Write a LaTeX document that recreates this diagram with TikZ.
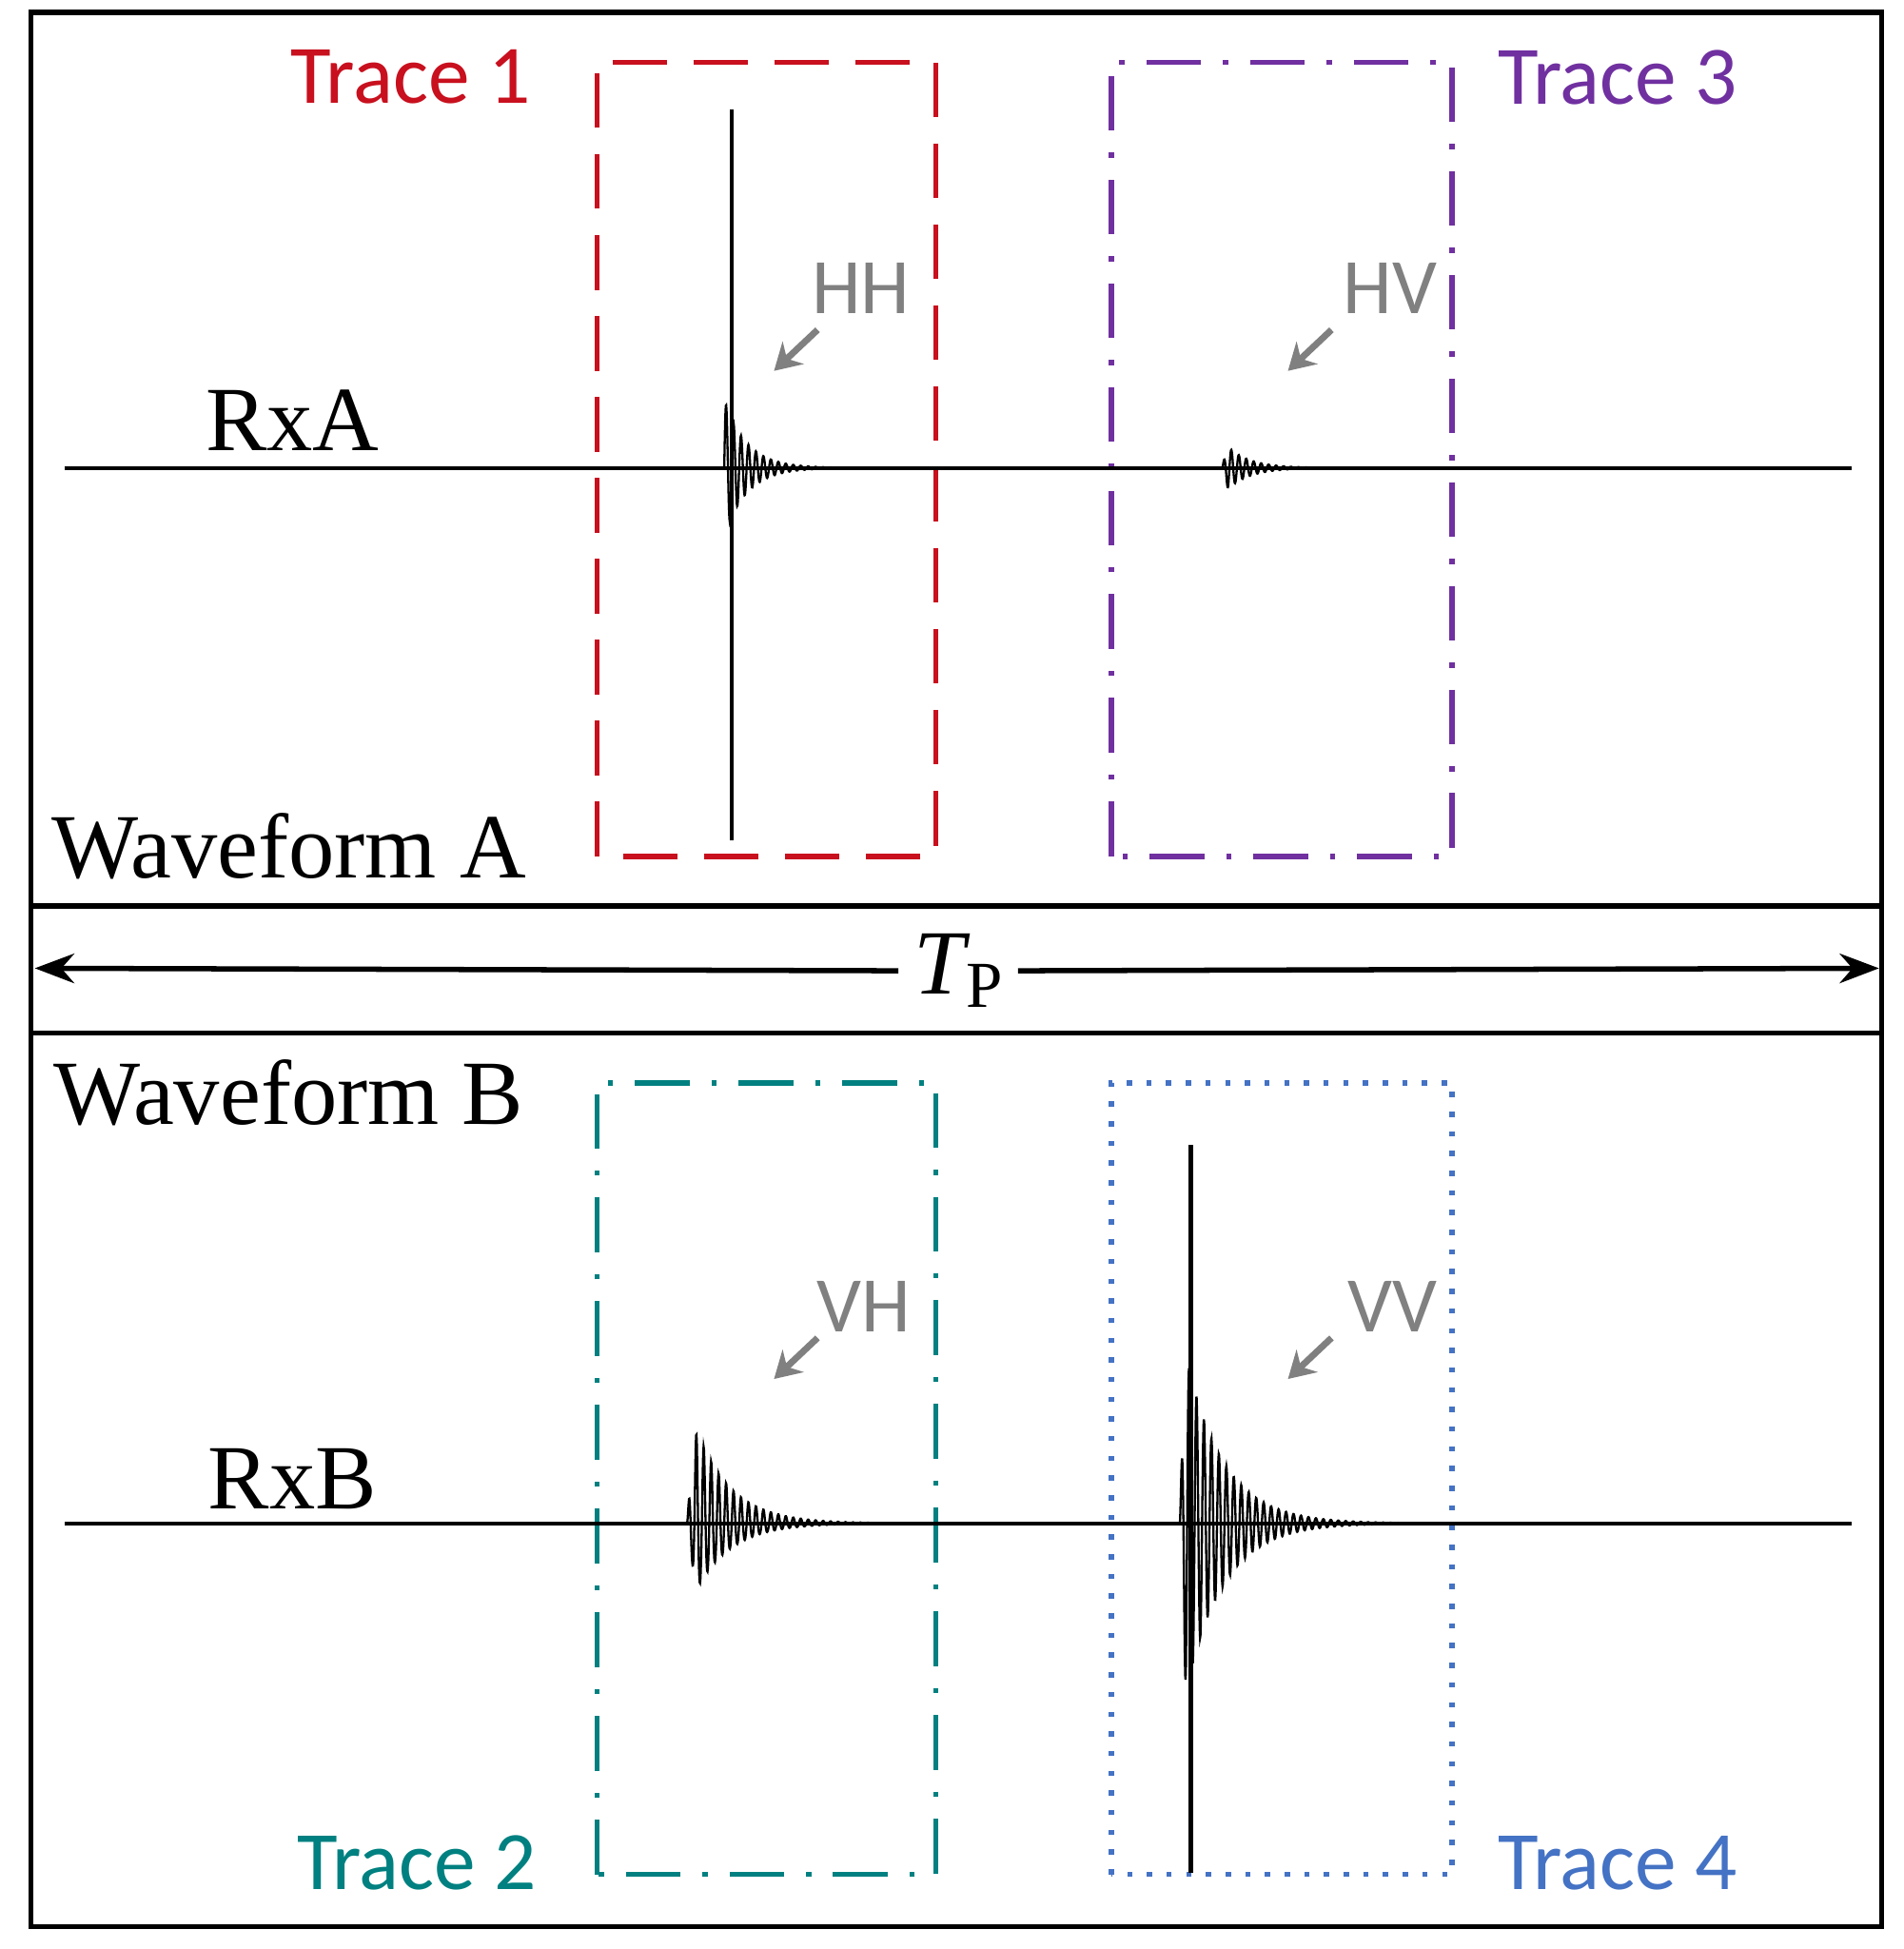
\documentclass[tikz,border=0pt]{standalone}
\usepackage{fontspec}
\usetikzlibrary{arrows.meta}
\setmainfont{Liberation Serif}
\newfontfamily\sansf{Carlito}
\begin{document}
\begin{tikzpicture}[x=1cm,y=1cm,
  frame/.style={line width=1.2pt},
  tr/.style={line width=1.2pt},
  lab/.style={font=\sansf\fontsize{19}{19}\selectfont},
  glab/.style={font=\sansf\fontsize{18}{18}\selectfont, text=gray},
  wlab/.style={font=\fontsize{21}{21}\selectfont},
  garr/.style={gray, line width=1.5pt, -{Stealth[length=6pt,width=7pt]}},
  wave/.style={line width=0.5pt}]
\definecolor{tred}{RGB}{200,16,30}
\definecolor{tpur}{RGB}{112,48,160}
\definecolor{tteal}{RGB}{0,128,128}
\definecolor{tblue}{RGB}{68,114,196}
\useasboundingbox (0,0) rectangle (15.30,15.66);
% frames
\draw[frame] (0.25,0.18) rectangle (15.12,15.56);
\draw[frame] (0.25,8.38) -- (15.12,8.38);
\draw[frame] (0.25,7.36) -- (15.12,7.36);
% Tp arrow
\node (tp) at (7.70,7.86) {\fontsize{21}{21}\selectfont\textit{T}\kern-1pt\raisebox{-3pt}{\fontsize{15}{15}\selectfont P}};
\coordinate (la) at (0.28,7.88);
\coordinate (ra) at (15.10,7.88);
\draw[line width=1.2pt,-{Stealth[length=9pt]}] (tp.west) -- (la);
\draw[line width=1.2pt,-{Stealth[length=9pt]}] (tp.east) -- (ra);
% trace boxes
\draw[tr,tred,dash pattern=on 12.5pt off 6pt] (4.80,8.78) rectangle (7.52,15.16);
\draw[tr,tpur,dash pattern=on 12.5pt off 5pt on 1.2pt off 5pt] (8.93,8.78) rectangle (11.67,15.16);
\draw[tr,tteal,dash pattern=on 12.5pt off 5pt on 1.2pt off 5pt] (4.80,0.60) rectangle (7.52,6.96);
\draw[tr,tblue,dash pattern=on 1.2pt off 3.3pt] (8.93,0.60) rectangle (11.67,6.96);
\node[lab,text=tred] (t1) at (3.30,15.04) {Trace 1};
\node[lab,text=tpur] (t3) at (13.00,15.04) {Trace 3};
\node[lab,text=tteal] (t2) at (3.35,0.69) {Trace 2};
\node[lab,text=tblue] (t4) at (13.00,0.69) {Trace 4};
% waveform labels
\node[wlab] (rxa) at (2.35,12.28) {RxA};
\node[wlab] (wa) at (2.32,8.86) {Waveform A};
\node[wlab] (wb) at (2.32,6.88) {Waveform B};
\node[wlab] (rxb) at (2.35,3.78) {RxB};
% gray labels and arrows
\node[glab] (hh) at (6.92,13.34) {HH};
\node[glab] (hv) at (11.17,13.34) {HV};
\node[glab] (vh) at (6.94,5.16) {VH};
\node[glab] (vv) at (11.19,5.16) {VV};
\coordinate (hha) at (6.22,12.68); \draw[garr] (6.57,13.01) -- (hha);
\coordinate (hva) at (10.35,12.68); \draw[garr] (10.70,13.01) -- (hva);
\coordinate (vha) at (6.22,4.58); \draw[garr] (6.57,4.91) -- (vha);
\coordinate (vva) at (10.35,4.58); \draw[garr] (10.70,4.91) -- (vva);
% waveform A
\draw[wave,line width=0.8pt] (0.52,11.90) -- (14.88,11.90);
\draw[line width=1pt] (5.88,14.78) -- (5.88,8.91);
\draw[wave] plot[domain=0:1.3,samples=500] ({5.82+\x},{11.90+0.55*exp(-\x/0.18)*sin(\x*6000)});
\draw[wave] plot[domain=0:1.0,samples=400] ({9.82+\x},{11.90+0.22*exp(-\x/0.18)*min(1,\x/0.05)*sin(\x*6000)});
% waveform B
\draw[wave,line width=0.8pt] (0.52,3.42) -- (14.88,3.42);
\draw[wave] plot[domain=0:2.0,samples=700] ({5.52+\x},{3.42+(0.85+0.15*sin(\x*6000))*exp(-\x/0.28)*min(1,\x/0.08)*sin(\x*6000)});
\draw[line width=1pt] (9.57,6.46) -- (9.57,0.61);
\draw[wave] plot[domain=0:2.5,samples=900] ({9.48+\x},{3.42+1.6*exp(-\x/0.3)*min(1,\x/0.05)*sin(\x*6000)});
\end{tikzpicture}
\end{document}
